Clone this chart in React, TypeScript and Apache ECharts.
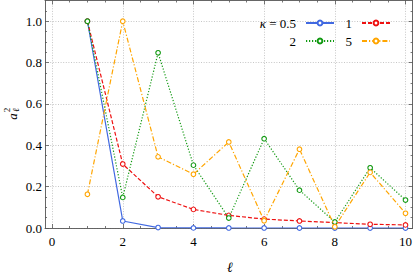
import React, { useEffect, useRef } from 'react';
import * as echarts from 'echarts';

const ells = [1, 2, 3, 4, 5, 6, 7, 8, 9, 10];
const kappa05 = [1.0, 0.034, 0.002, 0.0005, 0.0002, 0.0001, 0.0, 0.0, 0.0, 0.0];
const kappa1 = [1.0, 0.309, 0.151, 0.09, 0.061, 0.043, 0.034, 0.026, 0.018, 0.015];
const kappa2 = [1.0, 0.148, 0.847, 0.304, 0.048, 0.432, 0.183, 0.029, 0.291, 0.135];
const kappa5 = [0.163, 1.0, 0.344, 0.26, 0.416, 0.035, 0.381, 0.006, 0.269, 0.071];
const seriesNames = ['κ = 0.5', '1', '2', '5'];

const xMajor = [0, 2, 4, 6, 8, 10];
const xMinor = [0.5, 1, 1.5, 2.5, 3, 3.5, 4.5, 5, 5.5, 6.5, 7, 7.5, 8.5, 9, 9.5];
const yMajor = [0, 0.2, 0.4, 0.6, 0.8, 1.0];
const yMinor = [0.05, 0.1, 0.15, 0.25, 0.3, 0.35, 0.45, 0.5, 0.55, 0.65, 0.7, 0.75, 0.85, 0.9, 0.95, 1.05];

const FONT = 'Liberation Serif';
const FRAME = '#555';
const colors = ['#4169e1', '#ee1111', '#119911', '#ffa500'];
const dashes: any[] = ['solid', [4, 2], [1.2, 1.8], [5, 2, 1.2, 2]];
const allData = [kappa05, kappa1, kappa2, kappa5];

const XMIN = -0.2, XMAX = 10.2, YMIN = 0, YMAX = 1.1;

function axis(kind: 'x' | 'y', position: string, ticks: number[], len: number, opts: any = {}) {
  return {
    type: 'value',
    position,
    min: kind === 'x' ? XMIN : YMIN,
    max: kind === 'x' ? XMAX : YMAX,
    axisLine: { show: opts.line ?? false, onZero: false, lineStyle: { color: FRAME, width: 0.9 } },
    axisTick: { show: true, inside: true, length: len, customValues: ticks, lineStyle: { color: FRAME, width: 0.8 } },
    axisLabel: opts.labels
      ? {
          show: true,
          customValues: ticks,
          margin: kind === 'x' ? 7 : 3,
          fontFamily: FONT,
          fontSize: 13,
          color: '#000',
          formatter: (v: number) => (kind === 'x' ? String(Math.round(v)) : v.toFixed(1)),
        }
      : { show: false },
    splitLine: opts.split
      ? { show: true, lineStyle: { color: '#b8b8b8', width: 0.8, type: [1, 1.6] } }
      : { show: false },
  };
}

export default function App() {
  const ref = useRef<HTMLDivElement>(null);
  useEffect(() => {
    if (!ref.current) return;
    const chart = echarts.init(ref.current, undefined, { renderer: 'svg' });
    const legendCommon = {
      orient: 'horizontal',
      align: 'right',
      itemWidth: 28,
      itemHeight: 6,
      padding: 0,
      selectedMode: false,
      formatter: (name: string) => (name === 'κ = 0.5' ? '{i|κ} = 0.5' : name),
      textStyle: {
        fontFamily: FONT,
        fontSize: 13,
        color: '#000',
        padding: [0, 5, 0, 0],
        rich: { i: { fontFamily: FONT, fontSize: 13, fontStyle: 'italic', color: '#000' } },
      },
    };
    chart.setOption({
      animation: false,
      backgroundColor: '#fff',
      grid: { left: 45, right: 2, top: 0.5, bottom: 49 },
      xAxis: [
        axis('x', 'bottom', xMajor, 4, { line: true, labels: true, split: true }),
        axis('x', 'bottom', xMinor, 2),
        axis('x', 'top', xMajor, 4, { line: true }),
        axis('x', 'top', xMinor, 2),
      ],
      yAxis: [
        axis('y', 'left', yMajor, 4, { line: true, labels: true, split: true }),
        axis('y', 'left', yMinor, 2),
        axis('y', 'right', yMajor, 4, { line: true }),
        axis('y', 'right', yMinor, 2),
      ],
      legend: [
        { ...legendCommon, data: [seriesNames[0]], right: 80, top: 16.5 },
        { ...legendCommon, data: [seriesNames[1]], right: 24, top: 16.5 },
        { ...legendCommon, data: [seriesNames[2]], right: 80, top: 34.5 },
        { ...legendCommon, data: [seriesNames[3]], right: 24, top: 34.5 },
      ],
      series: allData.map((arr, i) => ({
        name: seriesNames[i],
        type: 'line',
        xAxisIndex: 0,
        yAxisIndex: 0,
        data: ells.map((x, j) => [x, arr[j]]),
        symbol: 'circle',
        symbolSize: 4.6,
        color: colors[i],
        itemStyle: { color: '#fff', borderColor: colors[i], borderWidth: 1.1 },
        lineStyle: { color: colors[i], width: 1.2, type: dashes[i] },
        z: 2 + i,
      })),
      graphic: [
        {
          type: 'group',
          x: 12.5,
          y: 116.5,
          rotation: Math.PI / 2,
          children: [
            { type: 'text', x: 0, y: 0, style: { text: 'a', font: `italic 13px ${FONT}`, fill: '#000', align: 'center', verticalAlign: 'middle' } },
            { type: 'text', x: 6.5, y: -6, style: { text: '2', font: `9px ${FONT}`, fill: '#000', align: 'center', verticalAlign: 'middle' } },
            { type: 'text', x: 6.5, y: 3, style: { text: 'ℓ', font: `italic 9px ${FONT}`, fill: '#000', align: 'center', verticalAlign: 'middle' } },
          ],
        },
        { type: 'text', x: 230, y: 267, style: { text: 'ℓ', font: `italic 14px ${FONT}`, fill: '#000', align: 'center', verticalAlign: 'middle' } },
      ],
    });
    return () => chart.dispose();
  }, []);
  return <div ref={ref} style={{ position: 'fixed', left: 0, top: 0, width: 415, height: 277 }} />;
}
